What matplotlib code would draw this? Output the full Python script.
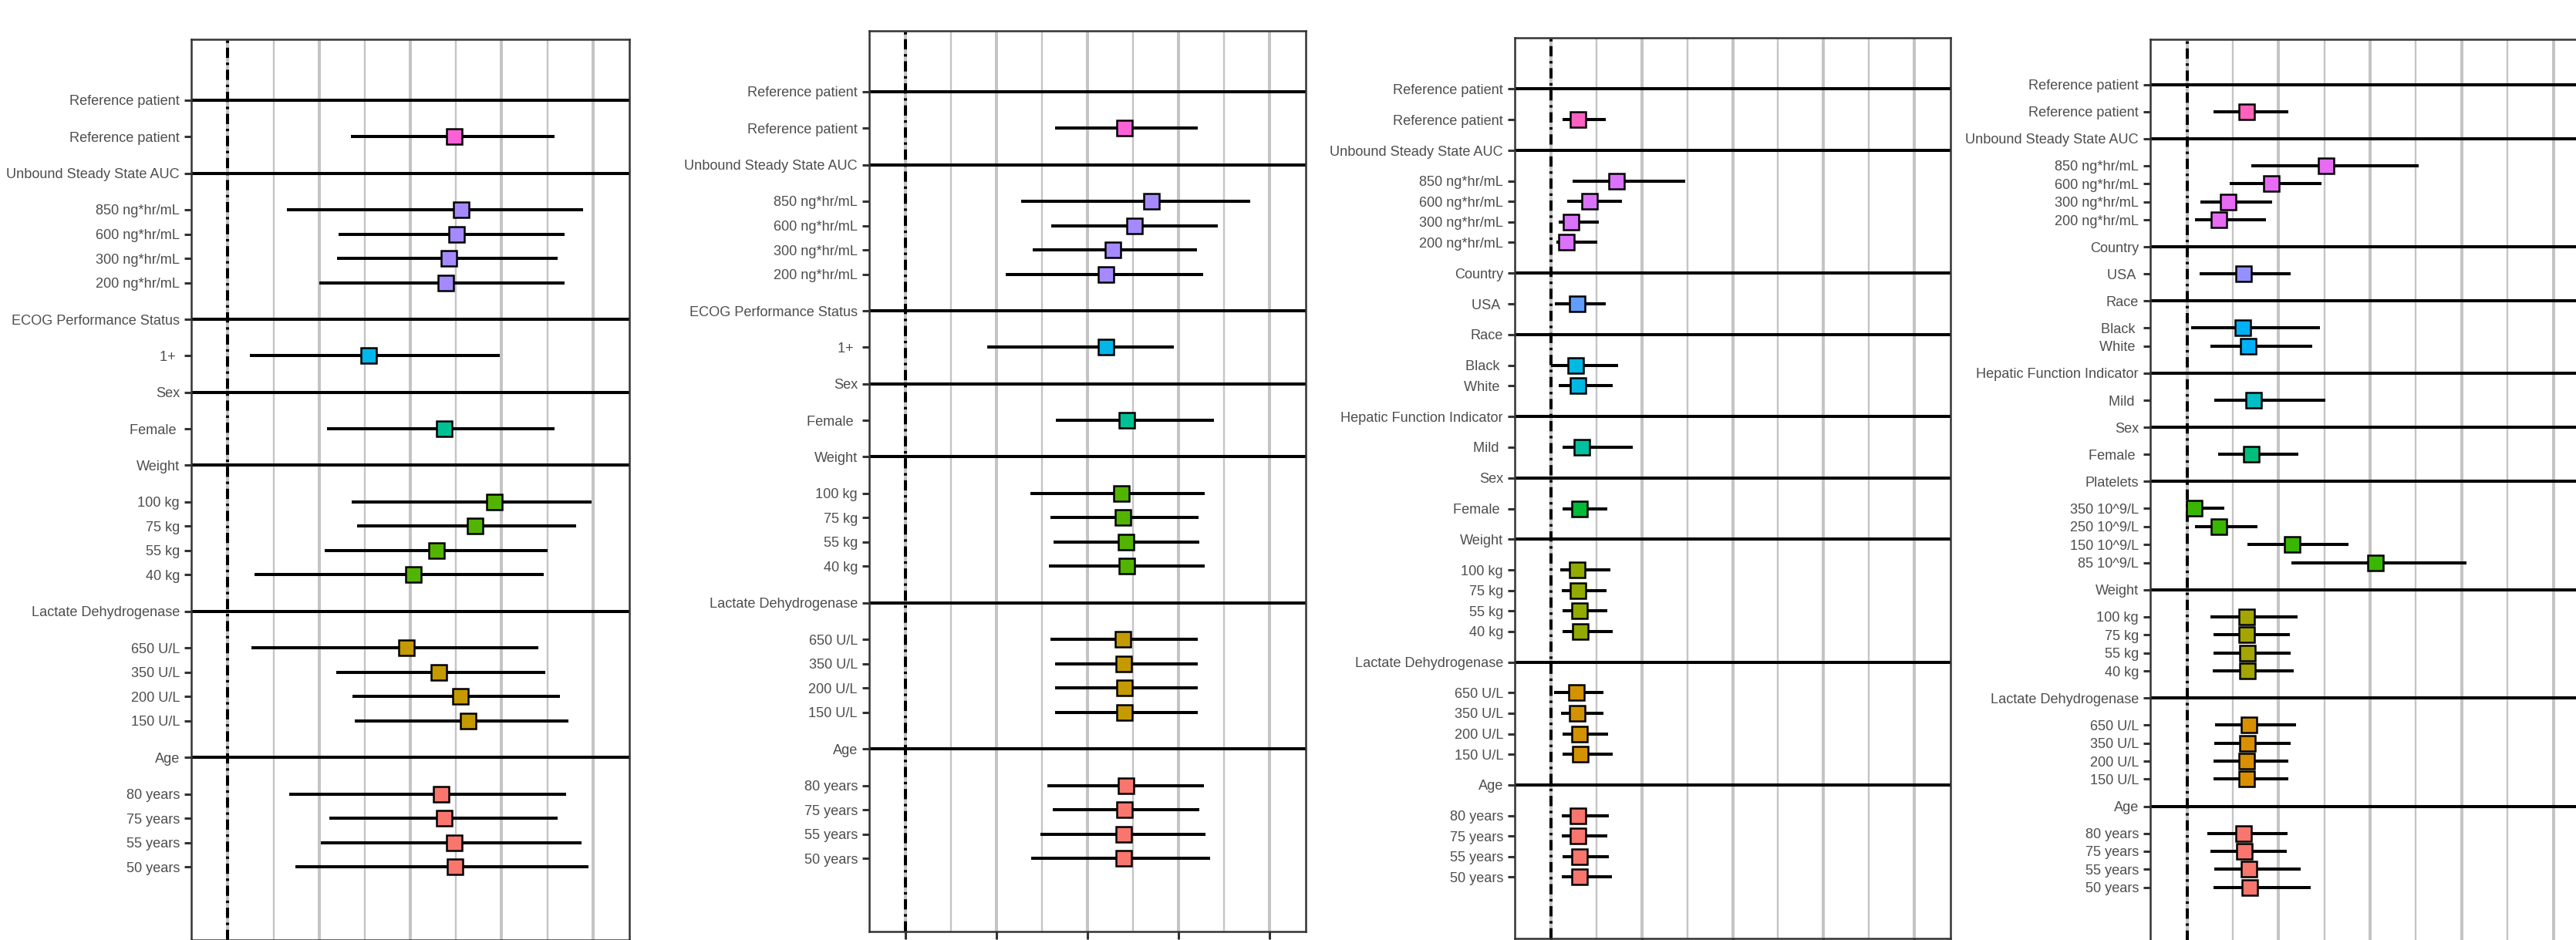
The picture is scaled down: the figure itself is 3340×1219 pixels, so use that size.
import numpy as np
import matplotlib.pyplot as plt

plt.rcParams['font.family'] = ['Liberation Sans', 'DejaVu Sans']

# Covariate groups (top to bottom) and their levels
groups_a = ['Reference patient', 'Unbound Steady State AUC', 'ECOG Performance Status',
            'Sex', 'Weight', 'Lactate Dehydrogenase', 'Age']
levels_a = [['Reference patient'],
            ['850 ng*hr/mL', '600 ng*hr/mL', '300 ng*hr/mL', '200 ng*hr/mL'],
            ['1+ '],
            ['Female '],
            ['100 kg', '75 kg', '55 kg', '40 kg'],
            ['650 U/L', '350 U/L', '200 U/L', '150 U/L'],
            ['80 years', '75 years', '55 years', '50 years']]

groups_b = ['Reference patient', 'Unbound Steady State AUC', 'Country', 'Race',
            'Hepatic Function Indicator', 'Sex', 'Weight', 'Lactate Dehydrogenase', 'Age']
levels_b = [['Reference patient'],
            ['850 ng*hr/mL', '600 ng*hr/mL', '300 ng*hr/mL', '200 ng*hr/mL'],
            ['USA '],
            ['Black ', 'White '],
            ['Mild '],
            ['Female '],
            ['100 kg', '75 kg', '55 kg', '40 kg'],
            ['650 U/L', '350 U/L', '200 U/L', '150 U/L'],
            ['80 years', '75 years', '55 years', '50 years']]

groups_c = ['Reference patient', 'Unbound Steady State AUC', 'Country', 'Race',
            'Hepatic Function Indicator', 'Sex', 'Platelets', 'Weight',
            'Lactate Dehydrogenase', 'Age']
levels_c = [['Reference patient'],
            ['850 ng*hr/mL', '600 ng*hr/mL', '300 ng*hr/mL', '200 ng*hr/mL'],
            ['USA '],
            ['Black ', 'White '],
            ['Mild '],
            ['Female '],
            ['350 10^9/L', '250 10^9/L', '150 10^9/L', '85 10^9/L'],
            ['100 kg', '75 kg', '55 kg', '40 kg'],
            ['650 U/L', '350 U/L', '200 U/L', '150 U/L'],
            ['80 years', '75 years', '55 years', '50 years']]

# Estimates with lower / upper interval bounds, in level order
est_1 = [0.248, 0.256, 0.251, 0.242, 0.239, 0.154, 0.237, 0.292, 0.271, 0.229, 0.203,
         0.196, 0.231, 0.255, 0.263, 0.234, 0.237, 0.248, 0.249]
lo_1 = [0.135, 0.065, 0.121, 0.120, 0.100, 0.024, 0.109, 0.136, 0.142, 0.106, 0.029,
        0.026, 0.119, 0.137, 0.139, 0.067, 0.111, 0.102, 0.074]
hi_1 = [0.358, 0.389, 0.369, 0.361, 0.369, 0.298, 0.358, 0.399, 0.382, 0.350, 0.346,
        0.340, 0.348, 0.364, 0.373, 0.371, 0.361, 0.388, 0.395]

est_2 = [0.241, 0.270, 0.252, 0.228, 0.220, 0.220, 0.243, 0.237, 0.239, 0.242, 0.243,
         0.239, 0.240, 0.241, 0.241, 0.242, 0.241, 0.240, 0.240]
lo_2 = [0.164, 0.127, 0.160, 0.140, 0.110, 0.090, 0.165, 0.137, 0.159, 0.163, 0.158,
        0.159, 0.164, 0.164, 0.164, 0.156, 0.162, 0.148, 0.138]
hi_2 = [0.321, 0.379, 0.343, 0.320, 0.327, 0.295, 0.339, 0.329, 0.322, 0.323, 0.329,
        0.321, 0.321, 0.321, 0.321, 0.328, 0.323, 0.330, 0.335]

est_3 = [0.030, 0.072, 0.042, 0.022, 0.017, 0.029, 0.027, 0.030, 0.034, 0.031, 0.029,
         0.030, 0.031, 0.032, 0.028, 0.029, 0.031, 0.032, 0.030, 0.030, 0.031, 0.031]
lo_3 = [0.013, 0.024, 0.018, 0.008, 0.006, 0.004, 0.000, 0.008, 0.013, 0.013, 0.010,
        0.012, 0.013, 0.013, 0.003, 0.011, 0.013, 0.013, 0.012, 0.012, 0.013, 0.012]
hi_3 = [0.060, 0.148, 0.078, 0.053, 0.051, 0.060, 0.074, 0.068, 0.090, 0.062, 0.065,
        0.061, 0.062, 0.068, 0.058, 0.058, 0.063, 0.068, 0.064, 0.062, 0.064, 0.067]

est_4 = [0.065, 0.152, 0.092, 0.045, 0.035, 0.062, 0.061, 0.067, 0.073, 0.070, 0.008,
         0.035, 0.115, 0.206, 0.065, 0.065, 0.066, 0.066, 0.068, 0.066, 0.065, 0.065,
         0.062, 0.063, 0.068, 0.069]
lo_4 = [0.029, 0.070, 0.047, 0.015, 0.009, 0.014, 0.005, 0.026, 0.030, 0.034, 0.000,
        0.009, 0.066, 0.114, 0.026, 0.029, 0.029, 0.028, 0.031, 0.030, 0.029, 0.029,
        0.022, 0.026, 0.030, 0.029]
hi_4 = [0.111, 0.253, 0.147, 0.093, 0.086, 0.113, 0.145, 0.137, 0.151, 0.122, 0.041,
        0.077, 0.176, 0.305, 0.121, 0.112, 0.113, 0.117, 0.119, 0.113, 0.111, 0.111,
        0.110, 0.109, 0.124, 0.135]

pal_7 = ['#FB61D7', '#A58AFF', '#00B6EB', '#00C094', '#53B400', '#C49A00', '#F8766D']
pal_9 = ['#FF61C3', '#DB72FB', '#619CFF', '#00B9E3', '#00C19F', '#00BA38', '#93AA00',
         '#D39200', '#F8766D']
pal_10 = ['#FF62BC', '#E76BF3', '#9590FF', '#00B0F6', '#00BFC4', '#00BF7D', '#39B600',
          '#A3A500', '#D89000', '#F8766D']

W, H = 3340, 1219
fig = plt.figure(figsize=(W / 100, H / 100), dpi=100)


def px_rect(left, top, right, bottom):
    return [left / W, (H - bottom) / H, (right - left) / W, (bottom - top) / H]


def forest(rect, groups, levels, est, lo, hi, palette):
    ax = fig.add_axes(px_rect(*rect))
    ticks, labels = [], []
    y = 0.0
    k = 0
    for g, name in enumerate(groups):
        ax.axhline(y, color='black', lw=2.9, zorder=2)
        ticks.append(y)
        labels.append(name)
        y += 1.5
        for lev in levels[g]:
            ax.hlines(y, lo[k], hi[k], color='black', lw=2.9, zorder=3)
            ax.plot(est[k], y, 's', ms=14, mfc=palette[g], mec='black', mew=1.8, zorder=4)
            ticks.append(y)
            labels.append(lev)
            y += 1
            k += 1
        y += 0.5
    last = y - 1.5

    ax.axvline(0, color='black', lw=2.9, ls=(0, (3.3, 1.5, 0.8, 1.5)), zorder=2.5)
    ax.set_xlim(-0.04, 0.44)
    ax.set_ylim(last + 3, -2.5)
    ax.set_xticks(np.arange(0, 0.41, 0.1))
    ax.set_xticks(np.arange(0.05, 0.41, 0.1), minor=True)
    ax.set_axisbelow(True)
    ax.grid(which='major', axis='x', color='#C4C4C4', lw=2.9)
    ax.grid(which='minor', axis='x', color='#C4C4C4', lw=1.7)
    ax.set_yticks(ticks, labels)
    ax.tick_params(axis='y', length=6.5, width=2.2, color='#333333', pad=4.3,
                   labelsize=13.1, labelcolor='#4D4D4D')
    ax.tick_params(axis='x', which='major', length=7, width=2.2, color='#333333',
                   labelbottom=False)
    ax.tick_params(axis='x', which='minor', length=0)
    for s in ax.spines.values():
        s.set_color('#333333')
        s.set_linewidth(1.8)
    return ax


forest((248, 51, 816, 1219), groups_a, levels_a, est_1, lo_1, hi_1, pal_7)
forest((1127, 40, 1693, 1208), groups_a, levels_a, est_2, lo_2, hi_2, pal_7)
forest((1964, 49, 2529, 1217), groups_b, levels_b, est_3, lo_3, hi_3, pal_9)
forest((2788, 51, 3358, 1221), groups_c, levels_c, est_4, lo_4, hi_4, pal_10)

fig.savefig('out.png', dpi=100, facecolor='white')
